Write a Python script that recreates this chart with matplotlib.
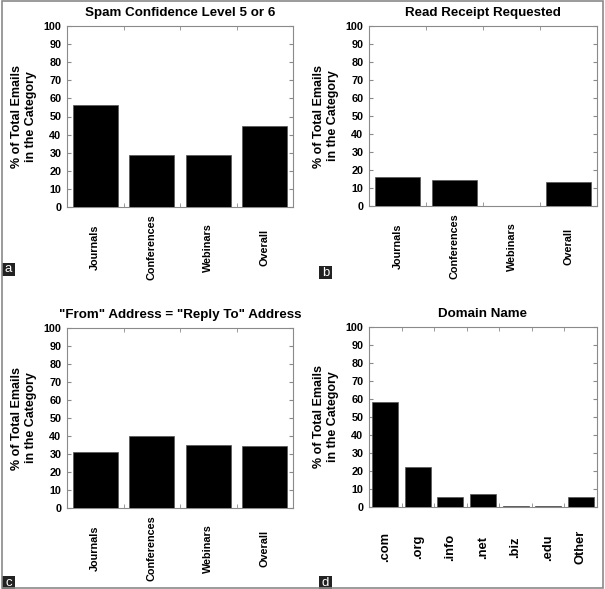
import matplotlib
matplotlib.use("Agg")
import matplotlib.pyplot as plt
from matplotlib.patches import Rectangle

plt.rcParams['font.family'] = ['Liberation Sans', 'DejaVu Sans']
plt.rcParams['font.weight'] = 'bold'

cats_main = ["Journals", "Conferences", "Webinars", "Overall"]
spam_vals = [56.5, 29, 29, 44.5]
receipt_vals = [16, 14.5, 0, 13.5]
reply_vals = [31, 40, 35, 34.5]
domain_cats = [".com", ".org", ".info", ".net", ".biz", ".edu", "Other"]
domain_vals = [58.5, 22, 5.5, 7.5, 0.7, 0.3, 5.5]

titles = ["Spam Confidence Level 5 or 6", "Read Receipt Requested",
          "\"From\" Address = \"Reply To\" Address", "Domain Name"]
panel_letters = ["a", "b", "c", "d"]
ylabel = "% of Total Emails\nin the Category"
yticks = list(range(0, 101, 10))

W, H = 605, 589
fig = plt.figure(figsize=(W / 100, H / 100), dpi=100)

def fx(px):
    return px / W

def fy(py):
    return 1 - py / H

axes_px = [(67, 26, 293, 207), (369, 26, 597, 206), (67, 328, 293, 508), (369, 327, 597, 507)]
data = [(cats_main, spam_vals), (cats_main, receipt_vals), (cats_main, reply_vals), (domain_cats, domain_vals)]
xfs = [7.8, 7.8, 7.8, 9.3]
spine_col = "#8a8a8a"

for i, ((l, t, r, b), (cats, vals)) in enumerate(zip(axes_px, data)):
    ax = fig.add_axes([fx(l), fy(b), fx(r - l), fy(t) - fy(b)])
    n = len(cats)
    xs = list(range(n))
    ax.bar(xs, vals, width=0.8, color="black", edgecolor="#555555", linewidth=0.5, zorder=3)
    ax.set_xlim(-0.5, n - 0.5)
    ax.set_ylim(0, 100)
    ax.set_yticks(yticks)
    ax.set_yticklabels([str(v) for v in yticks], fontsize=7.8, fontweight='bold')
    ax.set_xticks(xs)
    ax.set_xticklabels(cats, rotation=90, fontsize=xfs[i], fontweight='bold', va='center')
    ax.tick_params(axis='x', length=0, pad=29)
    ax.tick_params(axis='y', direction='in', length=3, color=spine_col, right=True, pad=4)
    ax.set_xticks([k + 0.5 for k in range(n - 1)], minor=True)
    ax.tick_params(axis='x', which='minor', direction='in', length=3, color=spine_col, top=True, bottom=True)
    for s in ax.spines.values():
        s.set_color(spine_col)
        s.set_linewidth(0.8)
    ax.set_title(titles[i], fontsize=9.6, fontweight='bold', pad=7)
    ax.set_ylabel(ylabel, fontsize=9.0, fontweight='bold', labelpad=5, linespacing=1.15)

# panel letters
letter_pos = [(2, 263), (319, 266), (2, 576), (319, 576)]
for (px, py), letter in zip(letter_pos, panel_letters):
    fig.patches.append(Rectangle((fx(px), fy(py + 13)), fx(13), fy(py) - fy(py + 13),
                                 transform=fig.transFigure, facecolor="#222222", edgecolor="none"))
    fig.text(fx(px + 6.5), fy(py + 6.5), letter, color="white", fontsize=9.5,
             fontweight='normal', ha='center', va='center')

# outer border
fig.patches.append(Rectangle((fx(1.5), fy(587.5)), fx(601), fy(1) - fy(587.5),
                             transform=fig.transFigure, facecolor="none", edgecolor="#8a8a8a", linewidth=1.2))

fig.savefig("out.png", dpi=100)
